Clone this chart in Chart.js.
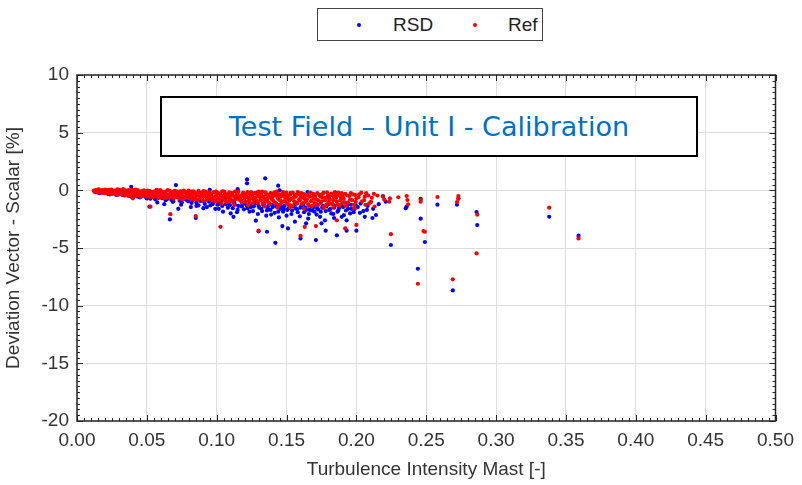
<!DOCTYPE html>
<html>
<head>
<meta charset="utf-8">
<script src="https://cdn.jsdelivr.net/npm/chart.js@4.4.1/dist/chart.umd.min.js"></script>
<style>
  html, body { margin: 0; padding: 0; background: #fff; }
  #wrap { position: relative; width: 802px; height: 485px; }
  #titleBox {
    position: absolute; left: 160px; top: 96px; width: 534px; height: 57px;
    border: 2px solid #000; background: #fff; color: #0070C0;
    font-family: "DejaVu Sans", Verdana, sans-serif; font-size: 27px;
    display: flex; align-items: center; justify-content: center; white-space: nowrap;
  }
  #legendBox {
    position: absolute; left: 317px; top: 8px; width: 224px; height: 31px;
    border: 1.5px solid #444; background: #fff;
    font-family: "Liberation Sans", Arial, sans-serif; font-size: 19px; color: #222;
  }
  .lg { position: absolute; top: 5px; }
  .dot { position: absolute; width: 4px; height: 4px; border-radius: 50%; top: 14px; }
</style>
</head>
<body>
<div id="wrap">
  <canvas id="c" width="802" height="485"></canvas>
  <div id="legendBox">
    <div class="dot" style="left:39px;background:#0000ff"></div>
    <div class="lg" style="left:75px">RSD</div>
    <div class="dot" style="left:155px;background:#ff0000"></div>
    <div class="lg" style="left:190px">Ref</div>
  </div>
  <div id="titleBox">Test Field – Unit I - Calibration</div>
</div>
<script>
const seriesNames = ["RSD", "Ref"];
const xTickLabels = ["0.00","0.05","0.10","0.15","0.20","0.25","0.30","0.35","0.40","0.45","0.50"];
const yTickLabels = ["-20","-15","-10","-5","0","5","10"];

// RSD: [turbulence intensity, deviation %]
const rsdPoints = [
 [0.013,-0.15],[0.016,-0.25],[0.019,-0.08],[0.022,-0.30],[0.025,-0.20],[0.028,-0.40],[0.030,-0.05],[0.031,-0.12],[0.034,-0.45],[0.036,-0.30],[0.0388,0.31],[0.039,-0.55],
 [0.042,-0.40],[0.045,-0.62],[0.048,-0.30],[0.050,-0.70],[0.0518,-1.42],[0.053,-0.50],[0.056,-0.78],[0.058,-0.35],[0.060,-0.15],[0.061,-0.68],[0.0635,-0.85],[0.0665,-2.52],[0.066,-0.55],[0.069,-0.95],[0.0708,0.46],[0.072,-0.62],[0.075,-1.05],[0.078,-0.80],[0.080,-0.45],
 [0.082,-1.10],[0.085,-2.40],[0.085,-0.75],[0.087,-1.30],[0.089,-0.55],[0.090,-0.30],[0.091,-1.00],[0.093,-1.45],[0.095,-0.70],[0.097,-1.20],[0.099,-1.60],[0.100,-0.85],[0.102,-1.15],[0.104,-1.35],[0.106,-0.60],[0.108,-1.50],[0.110,-2.00],[0.110,-0.95],[0.112,-2.30],[0.113,-1.25],[0.115,-1.70],[0.117,-0.80],[0.118,-1.40],[0.120,-1.10],[0.120,-0.40],
 [0.1217,0.95],[0.1217,0.61],[0.122,-1.55],[0.124,-1.20],[0.126,-1.80],[0.128,-2.63],[0.128,-0.95],[0.130,-3.55],[0.130,-1.35],[0.132,-1.60],[0.1347,1.04],[0.134,-1.15],[0.136,-3.59],[0.136,-1.75],[0.137,-1.30],[0.139,-2.10],[0.140,-1.45],[0.142,-4.55],[0.142,-1.10],[0.144,0.40],[0.144,-1.85],[0.146,-1.40],[0.147,-3.10],[0.148,-1.60],[0.150,-2.20],[0.150,-0.50],[0.151,-3.30],[0.152,-1.30],[0.154,-1.75],[0.156,-2.72],[0.156,-1.20],[0.158,-1.90],[0.160,-4.17],[0.160,-1.50],
 [0.162,-1.25],[0.164,-2.86],[0.164,-1.70],[0.166,-2.05],[0.168,-1.40],[0.170,-1.85],[0.171,-4.31],[0.172,-1.55],[0.174,-2.30],[0.175,-2.86],[0.176,-1.35],[0.178,-3.50],[0.178,-1.80],[0.180,-1.20],[0.180,-0.60],[0.182,-2.00],[0.184,-2.40],[0.184,-1.50],[0.186,-3.90],[0.187,-1.75],[0.189,-1.30],[0.191,-2.15],[0.193,-2.60],[0.193,-3.50],[0.194,-1.60],[0.196,-1.25],[0.198,-1.90],[0.200,-3.50],[0.201,-1.45],[0.203,-1.15],[0.205,-1.80],[0.206,-2.30],[0.208,-1.35],[0.210,-1.05],[0.212,-1.60],[0.214,-2.14],[0.216,-1.20],
 [0.219,-0.50],[0.221,-0.99],[0.2247,-4.74],[0.2353,-1.56],[0.236,-1.42],[0.246,-0.73],[0.246,-2.46],[0.249,-4.48],[0.244,-6.80],[0.258,-1.24],[0.272,-1.25],[0.273,-0.73],[0.269,-8.68],[0.286,-1.88],[0.2865,-3.01],[0.338,-2.29],[0.359,-3.93],
 [0.0145,-0.05],[0.0175,-0.18],[0.0205,-0.22],[0.0235,-0.35],[0.0265,-0.10],[0.0295,-0.28],[0.0325,-0.40],[0.0355,-0.18],[0.0375,-0.50],[0.0405,-0.32],[0.0435,-0.55],[0.0465,-0.45],[0.0495,-0.60],[0.0525,-0.72],[0.0555,-0.40],[0.0585,-0.65],[0.0615,-0.48],[0.0645,-0.75],[0.0675,-0.82],[0.0705,-0.58],[0.0735,-0.90],[0.0765,-0.70],[0.0795,-0.95],[0.0825,-0.85],[0.0855,-1.05],[0.0885,-0.92],[0.0915,-1.18],[0.0945,-0.98],[0.0975,-1.05],[0.1005,-1.25],[0.1035,-1.00],[0.1065,-1.20],[0.1095,-1.30],[0.1125,-1.05],[0.1155,-1.35],[0.1185,-1.20],[0.1215,-1.30],[0.1245,-1.45],[0.1275,-1.15],[0.1305,-1.50],[0.1335,-1.30],[0.1365,-1.55],[0.1395,-1.25],[0.1425,-1.40],[0.1455,-1.60],[0.1485,-1.35],[0.1515,-1.55],[0.1545,-1.40],[0.1575,-1.65],[0.1605,-1.35],[0.1635,-1.50],[0.1665,-1.70],[0.1695,-1.45],[0.1725,-1.65],[0.1755,-1.50],[0.1785,-1.40],[0.1815,-1.60],[0.1845,-1.35],[0.1875,-1.55],[0.1905,-1.45],[0.1935,-1.30],[0.1965,-1.60],[0.1995,-1.25],
 [0.095,0.05],[0.105,-0.10],[0.115,0.10],[0.125,-0.20],[0.145,0.00],[0.165,-0.15],[0.185,-0.20],
 [0.0855,-1.35],[0.0905,-1.55],[0.0955,-1.30],[0.1015,-1.60],[0.1045,-1.85],[0.1085,-1.10],[0.1115,-1.55],[0.1145,-1.90],[0.1195,-1.65],[0.1235,-1.85],[0.1265,-1.40],[0.1295,-2.05],[0.1325,-1.80],[0.1355,-2.20],[0.1385,-1.70],[0.1415,-1.95],[0.1445,-2.35],[0.1475,-1.85],[0.1505,-1.70],[0.1535,-2.05],[0.1565,-1.55],[0.1595,-2.25],[0.1625,-1.90],[0.1655,-2.45],[0.1685,-1.75],[0.1715,-2.10],[0.1745,-1.85],[0.1775,-2.60],[0.1805,-1.70],[0.1835,-2.05],[0.1865,-1.85],[0.1895,-2.30],[0.1925,-1.75],[0.1955,-2.00],[0.1985,-1.65],[0.2025,-1.95],[0.2075,-1.70],[0.2115,-2.40],
 [0.0575,-1.05],[0.0625,-1.20],[0.0685,-1.00],[0.0745,-1.25],[0.0815,-1.45],[0.0725,-1.60]
];

// Ref: [turbulence intensity, deviation %]
const refPoints = [
 [0.012,-0.02],[0.013,-0.10],[0.014,0.05],[0.015,-0.15],[0.016,-0.05],[0.017,-0.20],[0.018,0.02],[0.019,-0.12],[0.020,-0.25],[0.020,0.06],
 [0.021,-0.08],[0.022,-0.18],[0.023,0.04],[0.024,-0.28],[0.025,-0.10],[0.026,-0.02],[0.027,-0.22],[0.028,-0.35],[0.029,0.08],[0.030,-0.15],[0.030,-0.30],
 [0.031,-0.05],[0.032,-0.24],[0.033,0.10],[0.034,-0.38],[0.035,-0.14],[0.036,-0.28],[0.037,0.02],[0.038,-0.45],[0.039,-0.20],[0.040,-0.08],[0.040,-0.69],
 [0.041,-0.32],[0.042,0.06],[0.043,-0.18],[0.044,-0.42],[0.045,-0.10],[0.046,-0.26],[0.047,-0.50],[0.048,0.00],[0.049,-0.36],[0.050,-0.15],[0.050,-0.55],
 [0.051,-0.22],[0.052,-0.05],[0.0526,-1.42],[0.053,-0.40],[0.054,-0.60],[0.055,-0.12],[0.056,-0.30],[0.057,0.04],[0.058,-0.48],[0.059,-0.20],[0.060,-0.36],[0.060,-0.62],
 [0.061,-0.10],[0.062,-0.44],[0.063,-0.25],[0.064,-0.66],[0.065,0.02],[0.066,-0.35],[0.0668,-2.07],[0.067,-0.52],[0.068,-0.18],[0.069,-0.72],[0.070,-0.30],[0.070,-0.05],
 [0.071,-0.45],[0.072,-0.22],[0.073,-0.60],[0.074,-0.08],[0.075,-0.38],[0.076,-0.75],[0.077,-0.15],[0.078,-0.50],[0.079,-0.28],[0.080,-0.66],[0.080,-0.02],
 [0.081,-0.35],[0.082,-0.12],[0.083,-0.55],[0.084,-0.80],[0.085,-0.25],[0.085,-2.23],[0.086,-0.45],[0.087,-0.05],[0.088,-0.68],[0.089,-0.32],[0.090,-0.90],[0.090,-0.18],
 [0.091,-0.50],[0.092,-0.10],[0.093,-0.72],[0.094,-0.28],[0.095,-0.60],[0.096,-0.40],[0.097,-0.85],[0.098,-0.15],[0.099,-0.55],[0.100,-0.35],[0.100,-0.98],
 [0.101,-0.22],[0.102,-0.65],[0.1027,-3.16],[0.103,-0.45],[0.104,-0.08],[0.105,-0.80],[0.106,-0.30],[0.107,-0.58],[0.108,-1.02],[0.109,-0.18],[0.110,-0.48],[0.110,-0.75],
 [0.111,-0.38],[0.112,-0.90],[0.113,-0.12],[0.114,-0.62],[0.115,-0.28],[0.116,-0.80],[0.117,-0.50],[0.118,-1.05],[0.119,-0.20],[0.120,-0.70],[0.120,-0.42],
 [0.121,-0.55],[0.122,-0.15],[0.123,-0.88],[0.124,-0.35],[0.125,-0.68],[0.126,-1.10],[0.127,-0.25],[0.128,-0.78],[0.129,-0.48],[0.130,-0.95],[0.130,-3.50],[0.130,-0.10],
 [0.131,-0.60],[0.132,-0.32],[0.133,-1.15],[0.134,-0.72],[0.135,-0.18],[0.136,-0.90],[0.137,-0.45],[0.138,-1.20],[0.139,-0.58],[0.140,-0.28],[0.140,-0.82],
 [0.141,-1.00],[0.142,-0.40],[0.143,-0.12],[0.144,-0.75],[0.145,-1.25],[0.146,-0.55],[0.147,-0.30],[0.148,-0.95],[0.149,-0.65],[0.150,-0.20],[0.150,-1.10],
 [0.151,-0.48],[0.152,-0.85],[0.153,-0.22],[0.154,-1.30],[0.155,-0.62],[0.156,-0.38],[0.157,-1.05],[0.158,-0.15],[0.159,-0.78],[0.160,-0.50],[0.160,-3.95],
 [0.161,-1.18],[0.162,-0.30],[0.163,-3.16],[0.163,-0.70],[0.164,-0.95],[0.165,-0.42],[0.166,-1.35],[0.167,-0.20],[0.168,-0.88],[0.169,-0.58],[0.170,-1.10],[0.170,-0.35],
 [0.171,-3.10],[0.171,-0.75],[0.172,-0.25],[0.173,-1.25],[0.174,-0.50],[0.175,-0.95],[0.176,-0.30],[0.177,-1.40],[0.178,-0.65],[0.179,-0.18],[0.180,-1.05],[0.180,-0.45],
 [0.181,-0.80],[0.182,-0.28],[0.183,-1.20],[0.184,-0.55],[0.185,-0.35],[0.186,-2.60],[0.186,-0.98],[0.187,-0.20],[0.188,-1.30],[0.189,-0.62],[0.190,-0.40],[0.190,-1.10],
 [0.192,-3.30],[0.191,-0.75],[0.192,-0.30],[0.194,-1.05],[0.195,-0.50],[0.196,-0.25],[0.197,-0.85],[0.198,-1.25],[0.199,-0.40],[0.200,-3.00],[0.200,-0.70],
 [0.202,-0.35],[0.204,-0.95],[0.206,-0.55],[0.207,-0.25],[0.209,-1.15],[0.211,-0.65],[0.213,-1.40],[0.215,-0.45],
 [0.219,-0.55],[0.220,-0.80],[0.2235,-0.99],[0.224,-0.70],[0.2247,-3.80],[0.230,-0.60],[0.236,-0.49],[0.2365,-0.84],[0.237,-1.21],
 [0.244,-8.10],[0.246,-0.84],[0.246,-0.99],[0.248,-3.53],[0.249,-3.59],[0.258,-0.58],[0.269,-7.72],[0.273,-0.49],[0.273,-0.69],[0.272,-1.01],[0.2865,-2.11],[0.286,-5.47],[0.338,-1.50],[0.359,-4.17],
 [0.0125,-0.12],[0.0135,0.02],[0.0145,-0.18],[0.0155,0.08],[0.0165,-0.10],[0.0175,-0.02],[0.0185,-0.22],[0.0195,-0.06],
 [0.0205,-0.14],[0.0215,0.02],[0.0225,-0.26],[0.0235,-0.12],[0.0245,0.06],[0.0255,-0.32],[0.0265,-0.14],[0.0275,0.00],[0.0285,-0.20],[0.0295,-0.38],
 [0.0305,0.04],[0.0315,-0.34],[0.0325,-0.16],[0.0335,-0.42],[0.0345,0.00],[0.0355,-0.22],[0.0365,-0.48],[0.0375,-0.12],[0.0385,-0.30],[0.0395,0.06],
 [0.0405,-0.24],[0.0415,-0.50],[0.0425,-0.30],[0.0435,0.02],[0.0445,-0.22],[0.0455,-0.56],[0.0465,-0.06],[0.0475,-0.34],[0.0485,-0.18],[0.0495,-0.48],
 [0.0505,-0.02],[0.0515,-0.42],[0.0525,-0.58],[0.0535,-0.16],[0.0545,-0.32],[0.0555,-0.50],[0.0565,-0.08],[0.0575,-0.62],[0.0585,-0.26],[0.0595,0.02],
 [0.0605,-0.52],[0.0615,-0.30],[0.0625,-0.68],[0.0635,-0.12],[0.0645,-0.42],[0.0655,-0.58],[0.0665,-0.04],[0.0675,-0.30],[0.0685,-0.48],[0.0695,-0.14],
 [0.0705,-0.62],[0.0715,-0.08],[0.0725,-0.40],[0.0735,-0.72],[0.0745,-0.26],[0.0755,-0.54],[0.0765,-0.02],[0.0775,-0.66],[0.0785,-0.36],[0.0795,-0.12],
 [0.0805,-0.52],[0.0815,-0.74],[0.0825,-0.30],[0.0835,-0.08],[0.0845,-0.62],[0.0855,-0.40],[0.0865,-0.82],[0.0875,-0.20],[0.0885,-0.50],[0.0895,-0.70],
 [0.0905,-0.06],[0.0915,-0.36],[0.0925,-0.84],[0.0935,-0.52],[0.0945,-0.16],[0.0955,-0.78],[0.0965,-0.26],[0.0975,-0.62],[0.0985,-0.92],[0.0995,-0.12],
 [0.1005,-0.60],[0.1015,-0.88],[0.1025,-0.32],[0.1035,-0.70],[0.1045,-0.50],[0.1055,-0.14],[0.1065,-0.92],[0.1075,-0.38],[0.1085,-0.66],[0.1095,-0.84],
 [0.1105,-0.22],[0.1115,-1.00],[0.1125,-0.52],[0.1135,-0.76],[0.1145,-0.40],[0.1155,-0.10],[0.1165,-0.64],[0.1175,-0.92],[0.1185,-0.30],[0.1195,-0.56],
 [0.1205,-0.98],[0.1215,-0.30],[0.1225,-0.60],[0.1235,-1.05],[0.1245,-0.18],[0.1255,-0.48],[0.1265,-0.82],[0.1275,-0.62],[0.1285,-0.20],[0.1295,-1.10],
 [0.1305,-0.42],[0.1315,-0.86],[0.1325,-0.12],[0.1335,-0.55],[0.1345,-1.00],[0.1355,-0.36],[0.1365,-0.68],[0.1375,-1.08],[0.1385,-0.25],[0.1395,-0.78],
 [0.1405,-0.50],[0.1415,-0.18],[0.1425,-1.15],[0.1435,-0.62],[0.1445,-0.35],[0.1455,-0.88],[0.1465,-1.10],[0.1475,-0.15],[0.1485,-0.45],[0.1495,-0.80],
 [0.1505,-0.62],[0.1515,-1.20],[0.1525,-0.38],[0.1535,-0.72],[0.1545,-0.20],[0.1555,-0.95],[0.1565,-0.55],[0.1575,-1.15],[0.1585,-0.30],[0.1595,-0.88],
 [0.1605,-0.25],[0.1615,-0.62],[0.1625,-1.05],[0.1635,-0.40],[0.1645,-0.78],[0.1655,-1.22],[0.1665,-0.55],[0.1675,-0.95],[0.1685,-0.28],[0.1695,-0.72],
 [0.1705,-0.55],[0.1715,-1.20],[0.1725,-0.85],[0.1735,-0.38],[0.1745,-1.10],[0.1755,-0.62],[0.1765,-0.20],[0.1775,-0.88],[0.1785,-1.25],[0.1795,-0.50],
 [0.1805,-0.72],[0.1815,-1.15],[0.1825,-0.45],[0.1835,-0.85],[0.1845,-0.18],[0.1855,-0.65],[0.1865,-1.25],[0.1875,-0.42],[0.1885,-0.88],[0.1895,-0.25],
 [0.1905,-0.60],[0.1915,-1.05],[0.1935,-0.45],[0.1955,-0.80],[0.1975,-0.35],[0.1995,-1.00],
 [0.2015,-0.60],[0.2035,-0.20],[0.2055,-0.85],[0.2085,-0.45],[0.2105,-1.00],[0.2125,-0.30],
 [0.1035,-1.15],[0.1125,-1.25],[0.1225,-1.30],[0.1345,-1.40],[0.1435,-1.50],[0.1525,-1.45],[0.1625,-1.60],[0.1685,-1.35],[0.1765,-1.55],[0.1835,-1.45],[0.1925,-1.35],[0.1985,-1.55],[0.2065,-1.25]
];

const toXY = arr => arr.map(p => ({x: p[0], y: p[1]}));

const boxTicks = {
  id: 'boxTicks',
  afterDraw(chart) {
    const {ctx, chartArea: a, scales: {x, y}} = chart;
    ctx.save();
    ctx.strokeStyle = '#262626';
    ctx.lineWidth = 1;
    ctx.beginPath();
    for (let i = 0; i <= 100; i++) {
      const v = i * 0.005;
      const px = Math.round(x.getPixelForValue(v)) + 0.5;
      const len = (i % 10 === 0) ? 6 : 3;
      ctx.moveTo(px, a.bottom); ctx.lineTo(px, a.bottom - len);
      ctx.moveTo(px, a.top); ctx.lineTo(px, a.top + len);
    }
    for (let i = 0; i <= 60; i++) {
      const v = -20 + i * 0.5;
      const py = Math.round(y.getPixelForValue(v)) + 0.5;
      const len = (i % 10 === 0) ? 6 : 3;
      ctx.moveTo(a.left, py); ctx.lineTo(a.left + len, py);
      ctx.moveTo(a.right, py); ctx.lineTo(a.right - len, py);
    }
    ctx.stroke();
    ctx.lineWidth = 1.5;
    ctx.strokeRect(a.left, a.top, a.right - a.left, a.bottom - a.top);
    ctx.restore();
  }
};

new Chart(document.getElementById('c'), {
  type: 'scatter',
  data: {
    datasets: [
      { label: seriesNames[1], data: toXY(refPoints), backgroundColor: '#ff0000', borderWidth: 0, pointRadius: 2.1 },
      { label: seriesNames[0], data: toXY(rsdPoints), backgroundColor: '#0000ff', borderWidth: 0, pointRadius: 2.1 }
    ]
  },
  options: {
    responsive: false,
    animation: false,
    layout: { padding: { top: 75, right: 21, left: 0, bottom: 0 } },
    plugins: { legend: { display: false }, tooltip: { enabled: false } },
    scales: {
      x: {
        type: 'linear', min: 0, max: 0.5,
        afterFit(s) { s.height = 64; },
        afterBuildTicks(s) { s.ticks = xTickLabels.map(t => ({value: parseFloat(t)})); },
        ticks: { callback: (v, i) => xTickLabels[i], color: '#333', padding: 8, maxRotation: 0,
                 font: { family: 'Liberation Sans, Arial', size: 19 } },
        grid: { color: '#dddddd', drawTicks: false },
        border: { display: false },
        title: { display: true, text: 'Turbulence Intensity Mast [-]', color: '#333',
                 font: { family: 'Liberation Sans, Arial', size: 19 }, padding: { top: 4, bottom: 4 } }
      },
      y: {
        type: 'linear', min: -20, max: 10,
        afterFit(s) { s.width = 77; },
        afterBuildTicks(s) { s.ticks = yTickLabels.map(t => ({value: parseFloat(t)})); },
        ticks: { callback: (v, i) => yTickLabels[i], color: '#333', padding: 8,
                 font: { family: 'Liberation Sans, Arial', size: 19 } },
        grid: { color: '#dddddd', drawTicks: false },
        border: { display: false },
        title: { display: true, text: 'Deviation Vector - Scalar [%]', color: '#333',
                 font: { family: 'Liberation Sans, Arial', size: 19 }, padding: { top: 2, bottom: 2 } }
      }
    }
  },
  plugins: [boxTicks]
});
</script>
</body>
</html>
